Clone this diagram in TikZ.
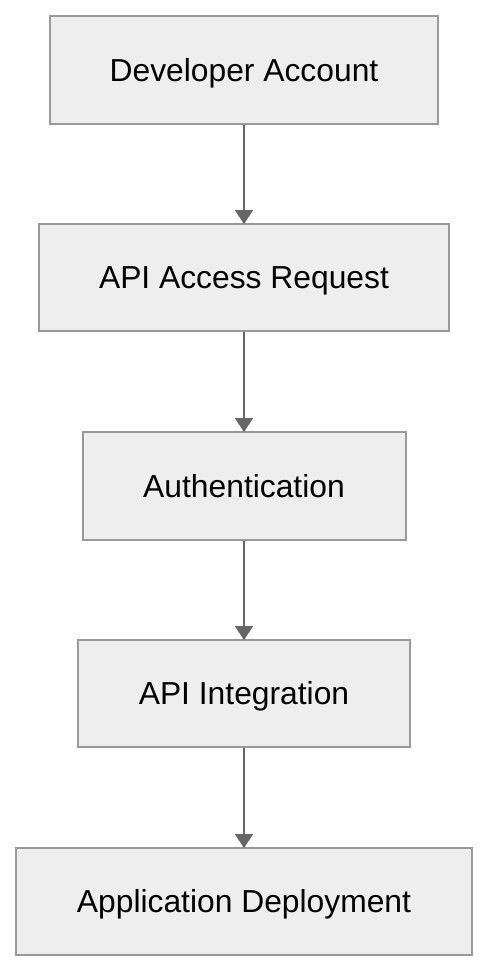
\documentclass[tikz,border=0pt]{standalone}
\usepackage{fontspec}
\setmainfont{Liberation Sans}
\usetikzlibrary{arrows.meta}
\definecolor{boxfill}{HTML}{EEEEEE}
\definecolor{boxline}{HTML}{999999}
\definecolor{arrowcol}{HTML}{666666}
\begin{document}
\begin{tikzpicture}[x=1pt,y=-1pt,
  stepbox/.style={draw=boxline, fill=boxfill, line width=2pt, inner sep=0pt,
    font=\fontsize{31.8}{36}\selectfont, text=black, text height=22.8pt, text depth=0pt},
  flow/.style={draw=arrowcol, line width=2pt, shorten >=-1pt, -{Triangle[length=14pt,width=18pt]}}]
\useasboundingbox (0,0) rectangle (488,972);
\node[stepbox, minimum width=388pt, minimum height=108pt] (a) at (244,70) {Developer Account};
\node[stepbox, minimum width=410pt, minimum height=107pt] (b) at (244,277.5) {API Access Request};
\node[stepbox, minimum width=323pt, minimum height=108pt] (c) at (244,486) {Authentication};
\node[stepbox, minimum width=332pt, minimum height=107pt] (d) at (244,693.5) {API Integration};
\node[stepbox, minimum width=456pt, minimum height=107pt] (e) at (244,901.5) {Application Deployment};
\draw[flow] (a) -- (b);
\draw[flow] (b) -- (c);
\draw[flow] (c) -- (d);
\draw[flow] (d) -- (e);
\end{tikzpicture}
\end{document}
